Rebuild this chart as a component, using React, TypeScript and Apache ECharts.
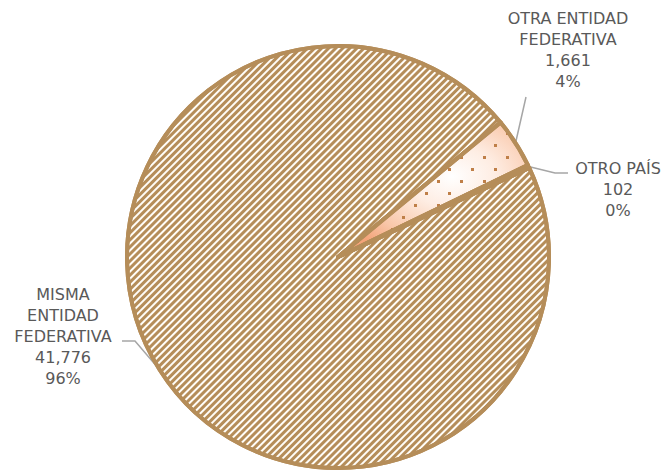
import React, { useEffect, useRef } from "react";
import * as echarts from "echarts";

// ---- data ----
const categories = ["MISMA\nENTIDAD\nFEDERATIVA", "OTRA ENTIDAD\nFEDERATIVA", "OTRO PAÍS"];
const values = [41776, 1661, 102];

// ---- layout constants (label block centres and leader-line bends) ----
const labelCenters = [
  [63, 336],
  [568, 50],
  [618, 189],
];
const leaderBends = [
  [[135, 341], [122, 341]],
  [[521, 119], [526, 97]],
  [[555, 173], [568, 173]],
];

const BROWN = "#B58D59";

export default function App() {
  const ref = useRef<HTMLDivElement>(null);

  useEffect(() => {
    if (!ref.current) return;
    const chart = echarts.init(ref.current, undefined, { renderer: "svg" });

    const peach = {
      type: "radial",
      x: 0.6,
      y: 0.4,
      r: 0.65,
      colorStops: [
        { offset: 0, color: "#FFFFFF" },
        { offset: 0.35, color: "#FEEDE3" },
        { offset: 0.75, color: "#F9C7A9" },
        { offset: 1, color: "#F4A47A" },
      ],
    };

    const itemStyles = [
      {
        color: "#FFFDF8",
        borderColor: BROWN,
        borderWidth: 4,
        decal: {
          symbol: "rect",
          symbolSize: 1,
          color: BROWN,
          dashArrayX: [1, 0],
          dashArrayY: [2.7, 1.7],
          rotation: -Math.PI / 4,
        },
      },
      {
        color: peach,
        borderColor: BROWN,
        borderWidth: 4,
        decal: {
          symbol: "rect",
          symbolSize: 1,
          color: "#BF7F48",
          dashArrayX: [[2.5, 19.5], [0, 11, 2.5, 8.5]],
          dashArrayY: [2.5, 8.5],
          rotation: 0,
        },
      },
      {
        color: peach,
        borderColor: BROWN,
        borderWidth: 4,
      },
    ];

    const data = categories.map((name, i) => ({
      name,
      value: values[i],
      itemStyle: itemStyles[i],
    }));

    chart.setOption({
      animation: false,
      backgroundColor: "#FFFFFF",
      series: [
        {
          type: "pie",
          center: [338, 257],
          radius: [0, 211],
          startAngle: 25,
          clockwise: true,
          avoidLabelOverlap: false,
          data,
          label: {
            show: true,
            position: "outside",
            formatter: (p: any) =>
              `${p.name}\n${Number(p.value).toLocaleString("en-US")}\n${Math.round(p.percent)}%`,
            color: "#595959",
            fontSize: 16,
            lineHeight: 21,
            fontFamily: "DejaVu Sans",
            align: "center",
          },
          labelLine: {
            show: true,
            lineStyle: { color: "#A6A6A6", width: 1.5 },
          },
          labelLayout: (params: any) => {
            const i = params.dataIndex;
            const start = params.labelLinePoints ? params.labelLinePoints[0] : [0, 0];
            return {
              x: labelCenters[i][0],
              y: labelCenters[i][1],
              align: "center",
              verticalAlign: "middle",
              labelLinePoints: [start, leaderBends[i][0], leaderBends[i][1]],
            };
          },
        },
      ],
    });

    return () => chart.dispose();
  }, []);

  return (
    <div
      ref={ref}
      style={{ position: "fixed", left: 0, top: 0, width: 667, height: 472 }}
    />
  );
}
